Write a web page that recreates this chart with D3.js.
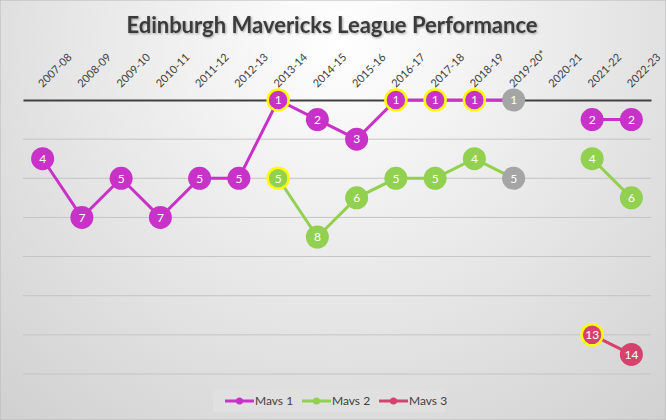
<!DOCTYPE html>
<html>
<head>
<meta charset="utf-8">
<script src="https://cdn.jsdelivr.net/npm/d3@7"></script>
<style>
  body { margin: 0; }
  text { font-family: Lato, "Open Sans", sans-serif; }
</style>
</head>
<body>
<script>
var W = 666, H = 420;

// data
var seasons = ["2007-08","2008-09","2009-10","2010-11","2011-12","2012-13","2013-14","2014-15",
  "2015-16","2016-17","2017-18","2018-19","2019-20*","2020-21","2021-22","2022-23"];
var mavs1 = [4, 7, 5, 7, 5, 5, 1, 2, 3, 1, 1, 1, 1, null, 2, 2];
var mavs2 = [null, null, null, null, null, null, 5, 8, 6, 5, 5, 4, 5, null, 4, 6];
var mavs3 = [null, null, null, null, null, null, null, null, null, null, null, null, null, null, 13, 14];
var mavs1Titles = ["2013-14","2016-17","2017-18","2018-19"];
var mavs2Titles = ["2013-14"];
var mavs3Titles = ["2021-22"];
var voidSeason = "2019-20*";
var positionTicks = [1, 3, 5, 7, 9, 11, 13, 15];

var series = [
  { name: "Mavs 1", values: mavs1, titles: mavs1Titles, color: "#c832c8" },
  { name: "Mavs 2", values: mavs2, titles: mavs2Titles, color: "#92d050" },
  { name: "Mavs 3", values: mavs3, titles: mavs3Titles, color: "#d6426e" }
];

var svg = d3.select("body").append("svg")
  .attr("width", W)
  .attr("height", H);

// background
var defs = svg.append("defs");
var grad = defs.append("radialGradient")
  .attr("id", "bg")
  .attr("gradientUnits", "userSpaceOnUse")
  .attr("cx", 340).attr("cy", 40).attr("r", 520);
grad.append("stop").attr("offset", "0%").attr("stop-color", "#ffffff");
grad.append("stop").attr("offset", "100%").attr("stop-color", "#cfcfcf");

var shadow = defs.append("filter").attr("id", "shadow")
  .attr("x", "-5%").attr("y", "-20%").attr("width", "110%").attr("height", "140%");
shadow.append("feDropShadow")
  .attr("dx", 1).attr("dy", 1).attr("stdDeviation", 0.8)
  .attr("flood-color", "#000").attr("flood-opacity", 0.35);

svg.append("rect")
  .attr("width", W).attr("height", H)
  .attr("fill", "url(#bg)")
  .attr("stroke", "#b8b8b8");

svg.append("text")
  .attr("x", 332).attr("y", 33)
  .attr("text-anchor", "middle")
  .attr("font-size", 22)
  .attr("font-weight", "bold")
  .attr("fill", "#3b3b3b")
  .attr("filter", "url(#shadow)")
  .text("Edinburgh Mavericks League Performance");

// scales
var x = d3.scaleBand().domain(seasons).range([23, 651]);
var y = d3.scaleLinear().domain([1, 15]).range([100, 374]);

// gridlines
svg.append("g")
  .selectAll("line")
  .data(positionTicks.slice(1))
  .enter().append("line")
  .attr("x1", 23).attr("x2", 651)
  .attr("y1", function(d) { return y(d); })
  .attr("y2", function(d) { return y(d); })
  .attr("stroke", "#c4c4c4")
  .attr("stroke-width", 1);

// category axis at the top
var xAxis = svg.append("g")
  .attr("transform", "translate(0," + y(1) + ")")
  .call(d3.axisTop(x).tickSize(0).tickPadding(0));
xAxis.select(".domain").attr("stroke", "#404040").attr("stroke-width", 2.2);
xAxis.selectAll(".tick text")
  .attr("font-size", 11)
  .attr("fill", "#404040")
  .attr("text-anchor", "start")
  .attr("x", 0).attr("y", 0).attr("dy", 0)
  .attr("transform", "translate(0,-12) rotate(-45)");

// lines
var line = d3.line()
  .defined(function(d) { return d.v != null; })
  .x(function(d) { return x(d.s) + x.bandwidth() / 2; })
  .y(function(d) { return y(d.v); });

series.forEach(function(sr) {
  var pts = seasons.map(function(s, i) { return { s: s, v: sr.values[i] }; });
  svg.append("path")
    .datum(pts)
    .attr("fill", "none")
    .attr("stroke", sr.color)
    .attr("stroke-width", 3)
    .attr("d", line);

  var g = svg.append("g").selectAll("g")
    .data(pts.filter(function(d) { return d.v != null; }))
    .enter().append("g")
    .attr("transform", function(d) {
      return "translate(" + (x(d.s) + x.bandwidth() / 2) + "," + y(d.v) + ")";
    });
  g.append("circle")
    .attr("r", function(d) { return sr.titles.indexOf(d.s) >= 0 ? 10.5 : 11.5; })
    .attr("fill", function(d) { return d.s === voidSeason ? "#a5a5a5" : sr.color; })
    .attr("stroke", function(d) { return sr.titles.indexOf(d.s) >= 0 ? "#ffff00" : "none"; })
    .attr("stroke-width", 2.5);
  g.append("text")
    .attr("text-anchor", "middle")
    .attr("dy", "0.36em")
    .attr("font-size", 12)
    .attr("fill", "#fff")
    .text(function(d) { return d.v; });
});

// legend
var lg = svg.append("g").attr("transform", "translate(213,389)");
lg.append("rect").attr("width", 232).attr("height", 23).attr("fill", "#e0e0e0");
var item = lg.selectAll("g.item")
  .data(series)
  .enter().append("g")
  .attr("class", "item")
  .attr("transform", function(d, i) { return "translate(" + (12 + i * 77) + ",12)"; });
item.append("line")
  .attr("x1", 0).attr("x2", 29)
  .attr("stroke", function(d) { return d.color; })
  .attr("stroke-width", 3);
item.append("circle")
  .attr("cx", 14.5).attr("r", 3.5)
  .attr("fill", function(d) { return d.color; });
item.append("text")
  .attr("x", 30).attr("dy", "0.36em")
  .attr("font-size", 12)
  .attr("fill", "#404040")
  .text(function(d) { return d.name; });
</script>
</body>
</html>
